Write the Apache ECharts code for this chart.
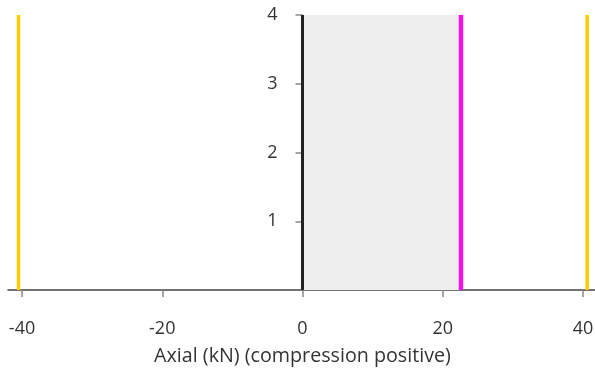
<!DOCTYPE html>
<html><head><meta charset="utf-8">
<script src="https://cdn.jsdelivr.net/npm/echarts@6/dist/echarts.min.js"></script>
<style>html,body{margin:0;padding:0;background:#fff}#c{width:595px;height:372px}</style>
</head><body><div id="c"></div>
<script>
var xTicks = [-40, -20, 0, 20, 40];
var yTicks = [1, 2, 3, 4];
var limitValues = [-40.5, 40.6];
var demandValue = 22.6;
var shadedRange = [0, 22.6];
var zeroLine = 0;
var yRange = [0, 4];
var xRange = [-42, 42];

function vline(x, color, width, z) {
  return {
    type: 'line', symbol: 'none', silent: true, z: z,
    lineStyle: { color: color, width: width },
    data: [[x, yRange[0]], [x, yRange[1]]]
  };
}
var series = [];
series.push({
  type: 'line', symbol: 'none', silent: true, z: 1,
  lineStyle: { width: 0 }, data: [],
  markArea: { silent: true, itemStyle: { color: '#eeeeee' },
    data: [[{ coord: [shadedRange[0], yRange[0]] }, { coord: [shadedRange[1], yRange[1]] }]] }
});
series.push(vline(zeroLine, '#222222', 3, 3));
series.push(vline(demandValue, '#ee11ee', 4.5, 4));
limitValues.forEach(function (v) { series.push(vline(v, '#ffcc00', 3.5, 4)); });

var font = 'Open Sans';
var gridLeft = 8, gridWidth = 589;
var zeroOffset = gridWidth * (zeroLine - xRange[0]) / (xRange[1] - xRange[0]);
var chart = echarts.init(document.getElementById('c'), null, { renderer: 'canvas' });
chart.setOption({
  animation: false,
  grid: { left: gridLeft, width: gridWidth, top: 15, bottom: 82, containLabel: false, outerBoundsMode: 'none' },
  xAxis: {
    type: 'value', min: xRange[0], max: xRange[1],
    name: 'Axial (kN) (compression positive)', nameLocation: 'middle', nameGap: 56,
    nameTextStyle: { fontFamily: font, fontSize: 19.7, color: '#333' },
    axisLine: { onZero: true, lineStyle: { color: '#444', width: 1.5 } },
    axisTick: { show: true, customValues: xTicks, length: 7, lineStyle: { color: '#888', width: 1.5 } },
    axisLabel: { customValues: xTicks, fontFamily: font, fontSize: 18, color: '#333', margin: 30 },
    splitLine: { show: false }
  },
  yAxis: {
    type: 'value', min: yRange[0], max: yRange[1], position: 'left', offset: -zeroOffset,
    axisLine: { show: true, onZero: false, lineStyle: { color: '#888', width: 1 } },
    axisTick: { show: true, customValues: yTicks, length: 7, lineStyle: { color: '#888', width: 1.5 } },
    axisLabel: { customValues: yTicks, fontFamily: font, fontSize: 18, color: '#333', margin: 25 },
    splitLine: { show: false }
  },
  series: series
});
</script></body></html>
